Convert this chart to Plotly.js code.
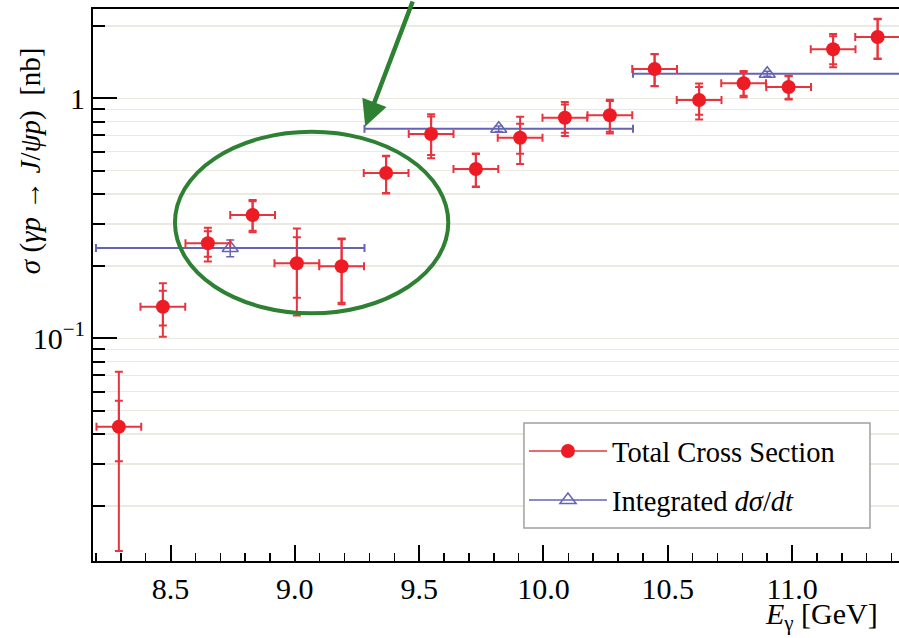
<!DOCTYPE html>
<html>
<head>
<meta charset="utf-8">
<script src="https://cdn.plot.ly/plotly-3.0.1.min.js"></script>
<style>html,body{margin:0;padding:0;background:#fff;}#chart{width:899px;height:638px;}</style>
</head>
<body>
<div id="chart"></div>
<script>
// ---- Data ----
const energyTotal = [8.292, 8.469, 8.650, 8.830, 9.008, 9.188, 9.367, 9.548, 9.728, 9.906,
                     10.086, 10.267, 10.447, 10.626, 10.805, 10.986, 11.165, 11.344];
const sigmaTotal  = [0.0428, 0.1354, 0.249, 0.3265, 0.2054, 0.1995, 0.4885, 0.710, 0.5074, 0.685,
                     0.830, 0.850, 1.325, 0.984, 1.155, 1.115, 1.60, 1.80];
const errTotal    = [0.0298, 0.034, 0.040, 0.050, 0.081, 0.061, 0.087, 0.148, 0.081, 0.153,
                     0.134, 0.136, 0.204, 0.169, 0.144, 0.126, 0.253, 0.343];
const errStat     = [0.0121, 0.0223, 0.0305, 0.046, 0.058, 0.059, 0.085, 0.129, 0.078, 0.098,
                     0.111, 0.124, 0.200, 0.130, 0.130, 0.120, 0.214, 0.335];
const binHalfTotal = [0.09, 0.09, 0.09, 0.09, 0.09, 0.09, 0.09, 0.09, 0.09, 0.09,
                      0.09, 0.09, 0.09, 0.09, 0.09, 0.09, 0.09, 0.09];

const energyInt   = [8.74, 9.82, 10.90];
const sigmaInt    = [0.2378, 0.747, 1.266];
const errInt      = [0.019, 0.02, 0.03];
const binHalfInt  = [0.54, 0.54, 0.54];

const yTickVals = [0.1, 1];
const yTickText = ['10<sup>−1</sup>', '1'];
const yMinorVals = [0.02, 0.03, 0.04, 0.05, 0.06, 0.07, 0.08, 0.09,
                    0.2, 0.3, 0.4, 0.5, 0.6, 0.7, 0.8, 0.9, 2];

const nameTotal = 'Total Cross Section';
const nameInt = 'Integrated <i>dσ</i>/<i>dt</i>';

// ---- helpers ----
function withGaps(a) { const o = []; a.forEach((v, i) => { o.push(v); if (i < a.length - 1) o.push(null); }); return o; }

const RED = 'rgb(237,28,36)';
const REDBAR = 'rgb(232,52,62)';
const BLUE = 'rgb(100,100,180)';
const GREEN = 'rgb(46,128,50)';
const FONT = 'Liberation Serif';

const traces = [
  {
    x: withGaps(energyInt), y: withGaps(sigmaInt), name: nameInt,
    mode: 'lines+markers', connectgaps: false,
    line: {color: BLUE, width: 1.5},
    marker: {symbol: 'triangle-up-open', size: 14, color: BLUE, line: {color: BLUE, width: 1.5}},
    error_x: {type: 'data', array: withGaps(binHalfInt), color: BLUE, thickness: 2, width: 4},
    error_y: {type: 'data', array: withGaps(errInt), color: BLUE, thickness: 1.5, width: 4},
    legendgroup: 'int', legendrank: 2, hoverinfo: 'x+y'
  },
  {
    x: energyTotal, y: sigmaTotal, mode: 'markers', showlegend: false, hoverinfo: 'skip',
    marker: {size: 1, color: 'rgba(0,0,0,0)'},
    error_y: {type: 'data', array: errStat, color: REDBAR, thickness: 2, width: 4}
  },
  {
    x: withGaps(energyTotal), y: withGaps(sigmaTotal), name: nameTotal,
    mode: 'lines+markers', connectgaps: false,
    line: {color: REDBAR, width: 1.5},
    marker: {symbol: 'circle', size: 14, color: RED},
    error_x: {type: 'data', array: withGaps(binHalfTotal), color: REDBAR, thickness: 2, width: 4},
    error_y: {type: 'data', array: withGaps(errTotal), color: REDBAR, thickness: 2, width: 4},
    legendgroup: 'tot', legendrank: 1, hoverinfo: 'x+y'
  }
];

const layout = {
  width: 899, height: 638,
  margin: {l: 93, r: 0, t: 9, b: 77},
  paper_bgcolor: '#ffffff', plot_bgcolor: '#ffffff',
  font: {family: FONT, size: 28, color: '#000'},
  showlegend: true,
  xaxis: {
    range: [8.188, 11.43], tick0: 0, dtick: 0.5, tickformat: '.1f',
    ticks: 'inside', ticklen: 16, tickwidth: 2, tickcolor: '#000',
    showline: true, linewidth: 2, linecolor: '#000', mirror: true,
    showgrid: false, zeroline: false,
    tickfont: {family: FONT, size: 30, color: '#000'},
    minor: {dtick: 0.1, ticks: 'inside', ticklen: 8, tickwidth: 1.5, tickcolor: '#000', showgrid: false}
  },
  yaxis: {
    type: 'log', range: [-1.928, 0.372],
    tickmode: 'array', tickvals: yTickVals, ticktext: yTickText,
    ticks: 'inside', ticklen: 24, tickwidth: 2, tickcolor: '#000',
    showline: true, linewidth: 2, linecolor: '#000', mirror: false,
    showgrid: true, gridcolor: 'rgb(236,234,224)', gridwidth: 1.5, zeroline: false,
    tickfont: {family: FONT, size: 30, color: '#000'},
    minor: {tickmode: 'array', tickvals: yMinorVals, ticks: 'inside', ticklen: 12, tickwidth: 2,
            tickcolor: '#000', showgrid: true, gridcolor: 'rgb(236,234,224)', gridwidth: 1.5}
  },
  legend: {
    x: 0.5347, y: 0.2446, xanchor: 'left', yanchor: 'top',
    bgcolor: 'rgba(0,0,0,0)', borderwidth: 0,
    font: {family: FONT, size: 28.5, color: '#000'},
    traceorder: 'grouped', tracegroupgap: 9, itemwidth: 78
  },
  shapes: [
    {type: 'rect', xref: 'paper', yref: 'paper', x0: 0.5347, x1: 0.964, y0: 0.0598, y1: 0.25,
     layer: 'above', fillcolor: '#ffffff', line: {color: '#a0a0a0', width: 1.5}},
    {type: 'circle', xref: 'paper', yref: 'paper', x0: 0.1017, x1: 0.4408, y0: 0.4487, y1: 0.7777,
     line: {color: GREEN, width: 4}}
  ],
  annotations: [
    {x: 9.283, y: -0.118, xref: 'x', yref: 'y', text: '', showarrow: true,
     ax: 48, ay: -158, arrowcolor: GREEN, arrowwidth: 4.5, arrowhead: 2, arrowsize: 1.15, standoff: 0},
    {xref: 'paper', yref: 'paper', x: -0.078, y: 0.7246, xanchor: 'center', yanchor: 'middle',
     textangle: -90, showarrow: false, font: {family: FONT, size: 29},
     text: '<i>σ</i> (<i>γp</i> → <i>J</i>/<i>ψp</i>)  [nb]'},
    {xref: 'paper', yref: 'paper', x: 0.976, y: -0.1377, xanchor: 'right', yanchor: 'bottom',
     showarrow: false, font: {family: FONT, size: 30},
     text: '<i>E</i><sub>γ</sub> [GeV]'}
  ]
};

Plotly.newPlot('chart', traces, layout, {displayModeBar: false, staticPlot: true});
</script>
</body>
</html>
